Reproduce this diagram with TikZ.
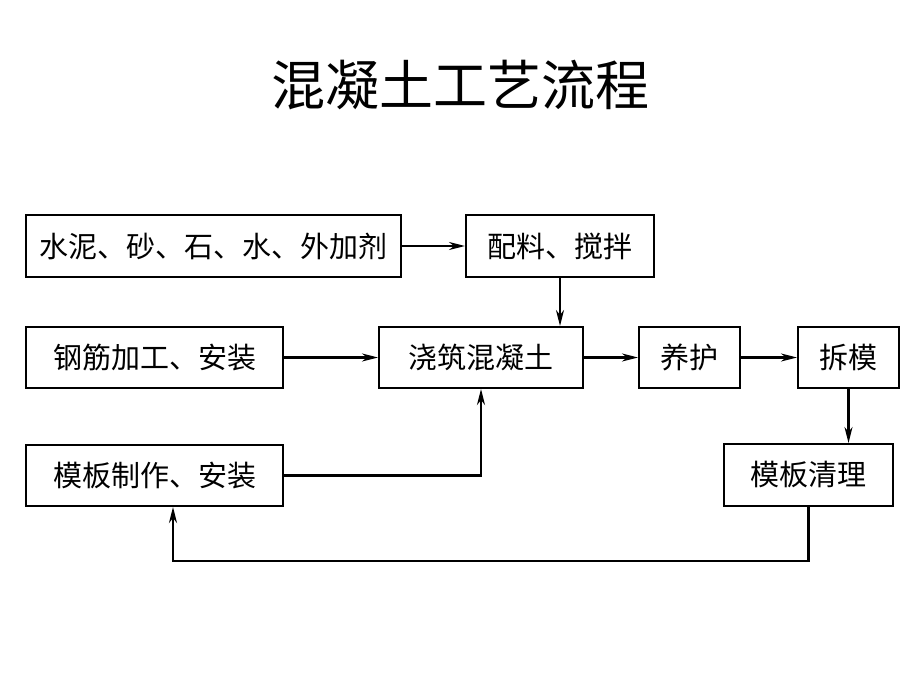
\documentclass[tikz,border=0pt]{standalone}
\usepackage{fontspec}
\setmainfont{Noto Sans CJK SC}
\usetikzlibrary{arrows.meta}
\begin{document}
\begin{tikzpicture}[x=1pt,y=-1pt,
  box/.style={draw,line width=2pt,inner sep=0pt,font=\fontsize{29}{32}\selectfont},
  conn/.style={draw,line width=2.2pt,-{Stealth[length=16pt,width=8pt,inset=5pt]}},
  plain/.style={draw,line width=2.2pt}]
\useasboundingbox (0,0) rectangle (920,690);
\node[font=\fontsize{54}{60}\selectfont] (title) at (460,85) {混凝土工艺流程};
\node[box,minimum width=375pt,minimum height=62pt] (mat) at (213.5,246) {水泥、砂、石、水、外加剂};
\node[box,minimum width=188pt,minimum height=62pt] (mix) at (560,246) {配料、搅拌};
\node[box,minimum width=257pt,minimum height=61pt] (rebar) at (154.5,357.5) {钢筋加工、安装};
\node[box,minimum width=204pt,minimum height=61pt] (pour) at (481,357.5) {浇筑混凝土};
\node[box,minimum width=101pt,minimum height=61pt] (cure) at (689.5,357.5) {养护};
\node[box,minimum width=101pt,minimum height=61pt] (strip) at (848.5,357.5) {拆模};
\node[box,minimum width=257pt,minimum height=61pt] (form) at (154.5,475.5) {模板制作、安装};
\node[box,minimum width=169pt,minimum height=62pt] (clean) at (808.5,475) {模板清理};
\coordinate (c1) at (808.5,561);
\coordinate (c2) at (173,561);
\path[conn] (mat.east) -- (mix.west);
\path[conn] (mix.south) -- (pour.north -| mix.south);
\path[conn] (rebar.east) -- (pour.west);
\path[conn] (pour.east) -- (cure.west);
\path[conn] (cure.east) -- (strip.west);
\path[conn] (strip.south) -- (clean.north -| strip.south);
\path[conn] (form.east) -| (pour.south);
\path[conn] (clean.south) -- (c1) -- (c2) -- (form.south -| c2);
\end{tikzpicture}
\end{document}
